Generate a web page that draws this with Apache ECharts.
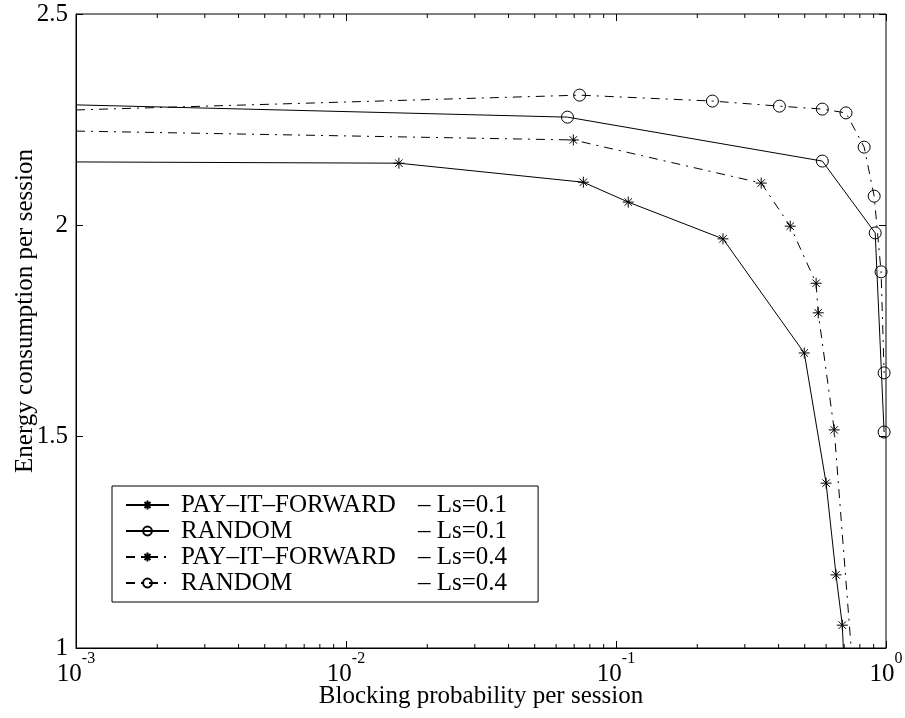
<!DOCTYPE html>
<html>
<head>
<meta charset="utf-8">
<script src="https://cdn.jsdelivr.net/npm/echarts@6/dist/echarts.min.js"></script>
<style>
html, body { margin: 0; padding: 0; background: #fff; }
#chart { width: 905px; height: 718px; }
</style>
</head>
<body>
<div id="chart"></div>
<script>
// 数据
var pifX01 = [0.001, 0.0157, 0.0757, 0.111, 0.249, 0.498, 0.600, 0.653, 0.689, 0.706];
var pifY01 = [2.150, 2.147, 2.102, 2.055, 1.968, 1.698, 1.390, 1.173, 1.054, 0.900];

var rndX01 = [0.001, 0.0661, 0.581, 0.912, 0.984];
var rndY01 = [2.285, 2.256, 2.152, 1.982, 1.511];

var pifX04 = [0.001, 0.0695, 0.345, 0.442, 0.551, 0.561, 0.643, 0.764];
var pifY04 = [2.223, 2.202, 2.100, 1.998, 1.863, 1.793, 1.516, 0.900];

var rndX04 = [0.001, 0.0733, 0.2275, 0.403, 0.581, 0.711, 0.830, 0.904, 0.959, 0.984];
var rndY04 = [2.273, 2.308, 2.294, 2.282, 2.275, 2.266, 2.185, 2.069, 1.890, 1.651];

var legendLeft = ['PAY\u2013IT\u2013FORWARD', 'RANDOM', 'PAY\u2013IT\u2013FORWARD', 'RANDOM'];
var legendRight = ['\u2013 Ls=0.1', '\u2013 Ls=0.1', '\u2013 Ls=0.4', '\u2013 Ls=0.4'];

var yTicks = [1, 1.5, 2, 2.5];
var minorTicks = [0.002, 0.003, 0.004, 0.005, 0.006, 0.007, 0.008, 0.009,
                  0.02, 0.03, 0.04, 0.05, 0.06, 0.07, 0.08, 0.09,
                  0.2, 0.3, 0.4, 0.5, 0.6, 0.7, 0.8, 0.9];

var FONT = "'Liberation Serif', 'Times New Roman', serif";
var STAR = 'path://M5,0L5,10M0,5L10,5M1.6,1.6L8.4,8.4M1.6,8.4L8.4,1.6';
var DASHDOT = [9, 6, 2, 6];

var names = legendLeft.map(function (l, i) { return l + ' ' + legendRight[i]; });

function makeSeries(idx, xs, ys, symbol, dash) {
    return {
        name: names[idx],
        type: 'line',
        data: xs.map(function (x, i) {
            // 第一个点位于坐标轴边缘，不画标记
            if (i === 0) return { value: [x, ys[i]], symbol: 'none' };
            return [x, ys[i]];
        }),
        symbol: symbol,
        symbolSize: symbol === 'circle' ? 12 : 11,
        showSymbol: true,
        clip: true,
        lineStyle: { color: '#000', width: 1, type: dash },
        itemStyle: {
            color: symbol === 'circle' ? 'rgba(0,0,0,0)' : '#000',
            borderColor: '#000',
            borderWidth: 1
        },
        emphasis: { disabled: true },
        z: 3
    };
}

var chart = echarts.init(document.getElementById('chart'));

var option = {
    animation: false,
    grid: {
        left: 76, right: 19, top: 14, bottom: 70,
        containLabel: false,
        outerBoundsMode: 'none',
        show: true, borderColor: '#000', borderWidth: 1
    },
    legend: {
        orient: 'vertical',
        left: 112,
        top: 486,
        padding: [6, 31, 6, 13],
        itemWidth: 43,
        itemHeight: 11,
        itemGap: 0,
        backgroundColor: '#fff',
        borderColor: '#000',
        borderWidth: 1,
        borderRadius: 0,
        data: names,
        formatter: function (name) {
            var i = names.indexOf(name);
            return '{a|' + legendLeft[i] + '}{b|' + legendRight[i] + '}';
        },
        textStyle: {
            fontFamily: FONT,
            fontSize: 25,
            color: '#000',
            lineHeight: 26,
            rich: {
                a: { fontFamily: FONT, fontSize: 25, color: '#000', width: 237, padding: [0, 0, 0, 7] },
                b: { fontFamily: FONT, fontSize: 25, color: '#000' }
            }
        }
    },
    xAxis: [
        {
            type: 'log',
            logBase: 10,
            min: 0.001,
            max: 1,
            splitNumber: 3,
            position: 'bottom',
            axisLine: { show: true, lineStyle: { color: '#000', width: 1 } },
            axisTick: { inside: true, length: 7, lineStyle: { color: '#000' } },
            splitLine: { show: false },
            axisLabel: {
                margin: 3,
                color: '#000',
                formatter: function (v) {
                    return '{b|10}{e|' + Math.round(Math.log10(v)) + '}';
                },
                rich: {
                    b: { fontFamily: FONT, fontSize: 25, color: '#000', lineHeight: 36, verticalAlign: 'bottom' },
                    e: { fontFamily: FONT, fontSize: 16, color: '#000', lineHeight: 16, verticalAlign: 'top' }
                }
            },
            name: 'Blocking probability per session',
            nameLocation: 'middle',
            nameGap: 36,
            nameMoveOverlap: false,
            nameTextStyle: { fontFamily: FONT, fontSize: 25, color: '#000' }
        },
        {
            type: 'log',
            logBase: 10,
            min: 0.001,
            max: 1,
            splitNumber: 3,
            position: 'top',
            axisLine: { show: false },
            axisTick: { inside: true, length: 7, lineStyle: { color: '#000' } },
            axisLabel: { show: false },
            splitLine: { show: false }
        }
    ],
    yAxis: [
        {
            type: 'value',
            min: 1,
            max: 2.5,
            interval: 0.5,
            position: 'left',
            axisLine: { show: true, lineStyle: { color: '#000', width: 1 } },
            axisTick: { show: true, inside: true, length: 7, lineStyle: { color: '#000' } },
            splitLine: { show: false },
            axisLabel: {
                margin: 8,
                color: '#000',
                fontFamily: FONT,
                fontSize: 25,
                formatter: function (v) {
                    var i = yTicks.indexOf(v);
                    return i >= 0 ? String(yTicks[i]) : '';
                }
            },
            name: 'Energy consumption per session',
            nameLocation: 'middle',
            nameGap: 38,
            nameMoveOverlap: false,
            nameTextStyle: { fontFamily: FONT, fontSize: 25, color: '#000', padding: [0, 0, 0, 40] }
        },
        {
            type: 'value',
            min: 1,
            max: 2.5,
            interval: 0.5,
            position: 'right',
            axisLine: { show: false },
            axisTick: { show: true, inside: true, length: 7, lineStyle: { color: '#000' } },
            axisLabel: { show: false },
            splitLine: { show: false }
        }
    ],
    series: [
        makeSeries(0, pifX01, pifY01, STAR, 'solid'),
        makeSeries(1, rndX01, rndY01, 'circle', 'solid'),
        makeSeries(2, pifX04, pifY04, STAR, DASHDOT),
        makeSeries(3, rndX04, rndY04, 'circle', DASHDOT),
        {
            // 对数轴的次刻度（上下两边）
            type: 'custom',
            silent: true,
            clip: false,
            data: minorTicks.map(function (v) { return [v]; }),
            renderItem: function (params, api) {
                var bottom = api.coord([api.value(0), 1]);
                var top = api.coord([api.value(0), 2.5]);
                var st = { stroke: '#000', lineWidth: 1 };
                return {
                    type: 'group',
                    children: [
                        { type: 'line', shape: { x1: bottom[0], y1: bottom[1], x2: bottom[0], y2: bottom[1] - 4 }, style: st },
                        { type: 'line', shape: { x1: top[0], y1: top[1], x2: top[0], y2: top[1] + 4 }, style: st }
                    ]
                };
            },
            z: 2
        }
    ]
};

chart.setOption(option);
</script>
</body>
</html>
